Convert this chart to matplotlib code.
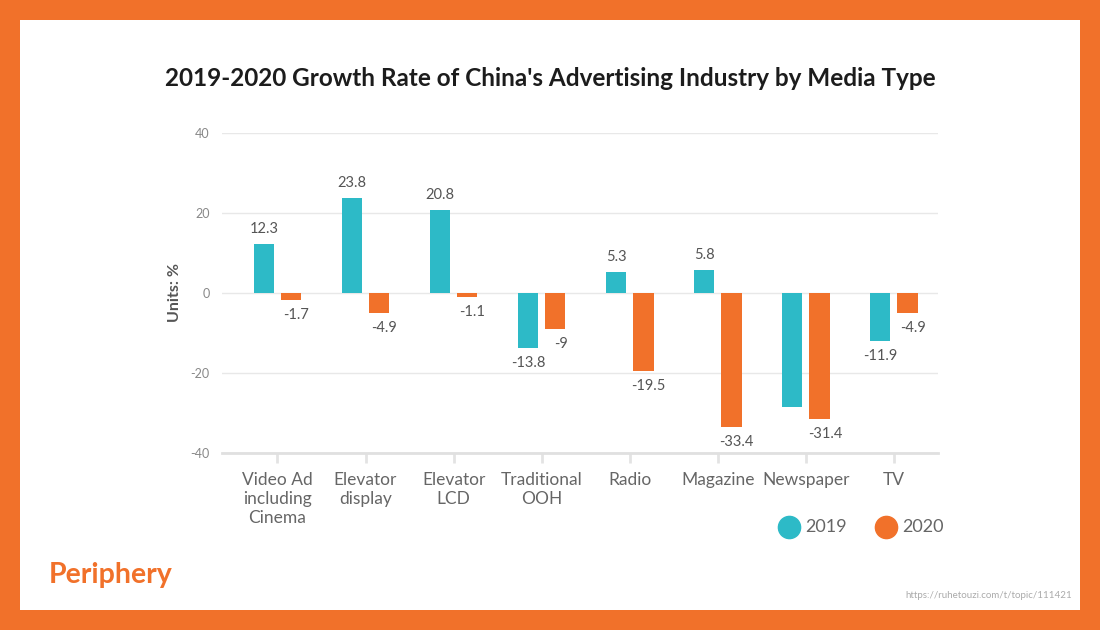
import numpy as np
import matplotlib.pyplot as plt
from matplotlib.patches import Rectangle

categories = ["Video Ad\nincluding\nCinema", "Elevator\ndisplay", "Elevator\nLCD",
              "Traditional\nOOH", "Radio", "Magazine", "Newspaper", "TV"]
growth_2019 = [12.3, 23.8, 20.8, -13.8, 5.3, 5.8, -28.5, -11.9]
growth_2020 = [-1.7, -4.9, -1.1, -9, -19.5, -33.4, -31.4, -4.9]
labels_2019 = ["12.3", "23.8", "20.8", "-13.8", "5.3", "5.8", "", "-11.9"]
labels_2020 = ["-1.7", "-4.9", "-1.1", "-9", "-19.5", "-33.4", "-31.4", "-4.9"]
yticks = [-40, -20, 0, 20, 40]

TEAL = "#2dbac7"
ORANGE = "#f1712a"
FONT = ["Lato", "DejaVu Sans"]
plt.rcParams["font.family"] = FONT

fig = plt.figure(figsize=(11, 6.3), dpi=100)
fig.patch.set_facecolor(ORANGE)
# white card inside the orange frame
fig.patches.append(Rectangle((20 / 1100, 20 / 630), 1060 / 1100, 590 / 630,
                             transform=fig.transFigure, facecolor="white",
                             edgecolor="none", zorder=-10))

ax = fig.add_axes([222 / 1100, 1 - 453 / 630, 716 / 1100, 320 / 630])
ax.set_facecolor("none")
ax.set_zorder(1)

x = np.arange(len(categories))
w = 0.23
off = 0.155
ax.bar(x - off, growth_2019, width=w, color=TEAL, zorder=3)
ax.bar(x + off, growth_2020, width=w, color=ORANGE, zorder=3)

for xi, v, s in zip(x - off, growth_2019, labels_2019):
    if s:
        ax.text(xi, v + (2 if v > 0 else -2), s, ha="center",
                va="bottom" if v > 0 else "top", fontsize=10.5, color="#555555")
for xi, v, s in zip(x + off, growth_2020, labels_2020):
    ax.text(xi + 0.06, v - 2, s, ha="center", va="top", fontsize=10.5,
            color="#555555")

ax.set_xlim(-0.63, 7.5)
ax.set_ylim(-40, 40)
ax.set_yticks(yticks)
ax.set_yticklabels([str(t) for t in yticks])
ax.set_xticks(x)
ax.set_xticklabels(categories)
ax.tick_params(axis="y", length=0, pad=9, labelsize=9, labelcolor="#888888")
ax.tick_params(axis="x", length=7, width=2, color="#e3e3e3", pad=7,
               labelsize=12.5, labelcolor="#666666")
for lab in ax.get_xticklabels():
    lab.set_linespacing(0.95)
ax.grid(axis="y", color="#e8e8e8", linewidth=1, zorder=0)
for sp in ["top", "right", "left"]:
    ax.spines[sp].set_visible(False)
ax.spines["bottom"].set_position(("data", -40))
ax.spines["bottom"].set_color("#e0e0e0")
ax.spines["bottom"].set_linewidth(2)

ax.set_ylabel("Units: %", fontsize=11.5, fontweight="bold", color="#555555",
              labelpad=6)

fig.text(550 / 1100, 1 - 78 / 630, "2019-2020 Growth Rate of China's Advertising Industry by Media Type",
         ha="center", va="center", fontsize=17.5, fontweight="bold", color="#1c1c1c")

# legend
fig.lines.append(plt.Line2D([789 / 1100], [1 - 527 / 630], marker="o", markersize=16,
                            color=TEAL, transform=fig.transFigure))
fig.text(805 / 1100, 1 - 527 / 630, "2019", fontsize=13, color="#666666", va="center")
fig.lines.append(plt.Line2D([886 / 1100], [1 - 527 / 630], marker="o", markersize=16,
                            color=ORANGE, transform=fig.transFigure))
fig.text(902 / 1100, 1 - 527 / 630, "2020", fontsize=13, color="#666666", va="center")

fig.text(49 / 1100, 1 - 575 / 630, "Periphery", fontsize=20.5, fontweight="bold",
         color=ORANGE, va="center")
fig.text(1072 / 1100, 1 - 596 / 630, "https://ruhetouzi.com/t/topic/111421",
         fontsize=7, color="#aaaaaa", ha="right", va="center")

fig.savefig("out.png", dpi=100, facecolor=fig.get_facecolor())
